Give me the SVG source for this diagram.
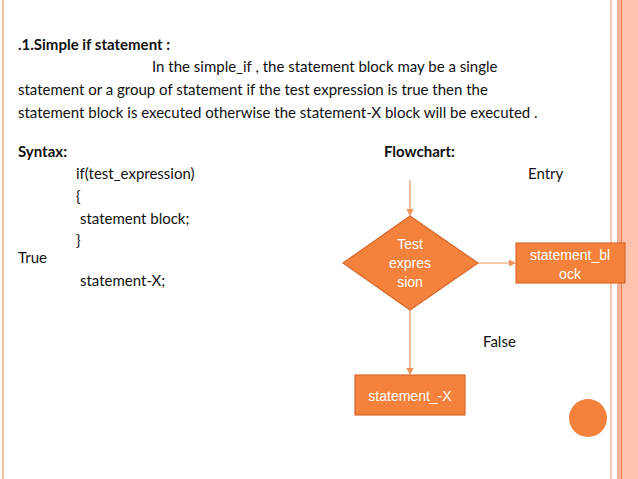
<svg xmlns="http://www.w3.org/2000/svg" width="638" height="479" viewBox="0 0 638 479">
<style>
.t{font-family:Lato,"Open Sans",sans-serif;font-size:15px;fill:#111}
.b{font-weight:bold}
.w{font-family:"Liberation Sans",Arial,sans-serif;font-size:14px;fill:#fff;text-anchor:middle}
.s{fill:#f4823c;stroke:#d8692a;stroke-width:1.2}
.c{stroke:#f0945c;stroke-width:1.2;fill:none}
</style>
<defs><marker id="a" markerWidth="6" markerHeight="6" refX="5" refY="3" orient="auto"><path d="M0,0L6,3L0,6z" fill="#f0945c"/></marker></defs>
<rect width="638" height="479" fill="#fff"/>
<rect x="2" y="0" width="2" height="479" fill="#f3c0a8"/>
<rect x="610" y="0" width="2" height="479" fill="#f3c9b5"/>
<rect x="617" y="0" width="4" height="479" fill="#f7b49a"/>
<rect x="621" y="0" width="1.5" height="479" fill="#e8804f"/>
<rect x="622.5" y="0" width="15.5" height="479" fill="#fdc3ad"/>
<text class="t b" x="18" y="50">.1.Simple if statement :</text>
<text class="t" x="152" y="72">In the simple_if , the statement block may be a single</text>
<text class="t" x="18" y="95">statement or a group of statement if the test expression is true then the</text>
<text class="t" x="18" y="118">statement block is executed otherwise the statement-X block will be executed .</text>
<text class="t b" x="18" y="157">Syntax:</text>
<text class="t b" x="384" y="157">Flowchart:</text>
<text class="t" x="76" y="179">if(test_expression)</text>
<text class="t" x="528" y="179">Entry</text>
<text class="t" x="76" y="202">{</text>
<text class="t" x="80" y="224">statement block;</text>
<text class="t" x="76" y="246">}</text>
<text class="t" x="18" y="263">True</text>
<text class="t" x="80" y="286">statement-X;</text>
<text class="t" x="483" y="347">False</text>
<g id="connectors">
<line class="c" x1="410" y1="180" x2="410" y2="215" marker-end="url(#a)"/>
<line class="c" x1="478" y1="263" x2="515" y2="263" marker-end="url(#a)"/>
<line class="c" x1="410" y1="310" x2="410" y2="374" marker-end="url(#a)"/>
</g>
<g id="test"><polygon class="s" points="410,216 478,263 410,310 343,263"/>
<text class="w" x="410" y="249">Test</text><text class="w" x="410" y="268">expres</text><text class="w" x="410" y="287">sion</text></g>
<g id="block"><rect class="s" x="516" y="243" width="109" height="40"/>
<text class="w" x="570" y="260">statement_bl</text><text class="w" x="570" y="279">ock</text></g>
<g id="stmtx"><rect class="s" x="355" y="375" width="110" height="40"/>
<text class="w" x="410" y="401">statement_-X</text></g>
<circle cx="588" cy="418" r="19" fill="#f4823c"/>
</svg>
